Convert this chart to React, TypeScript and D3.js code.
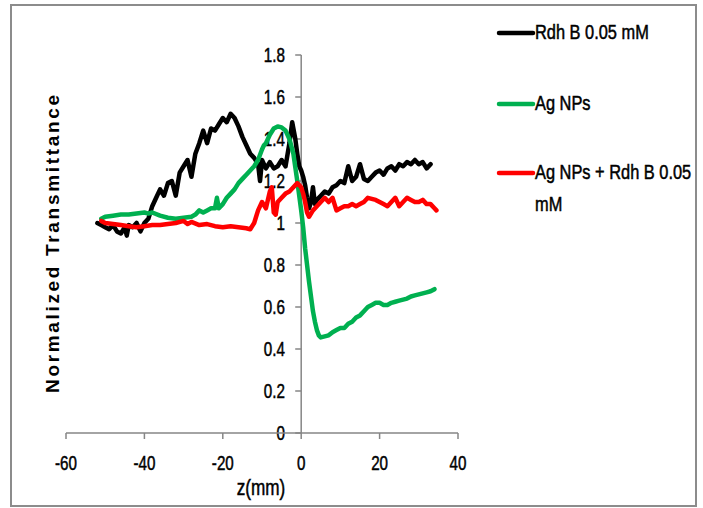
import React from "react";
import * as d3 from "d3";

const seriesNames = ["Rdh B 0.05 mM", "Ag NPs", "Ag NPs + Rdh B 0.05 mM"];
const seriesColors = ["#000000", "#00b050", "#ff0000"];

const rdhZ = [-52, -51, -50, -49, -48, -47, -46, -45, -44.5, -44, -43, -42, -41, -40, -39, -38, -37, -36, -35, -34, -33, -32, -31, -30, -29, -28, -27, -26, -25, -24, -23, -22, -21, -20, -19, -18, -17, -16, -15, -14, -13, -12, -11, -10.5, -10, -9, -8, -7, -6, -5, -4, -3, -2.3, -1.5, -1, -0.5, 0, 0.5, 1, 1.5, 2, 2.5, 3, 3.5, 4, 5, 6, 7, 8, 9, 10, 11, 12, 13, 14, 15, 16, 17, 18, 19, 20, 21, 22, 23, 24, 25, 26, 27, 28, 29, 30, 31, 32, 33];
const rdhT = [1.0, 0.99, 0.98, 0.97, 0.99, 0.96, 0.95, 0.98, 0.94, 0.99, 0.98, 1.0, 0.96, 1.0, 1.02, 1.08, 1.12, 1.16, 1.13, 1.19, 1.2, 1.13, 1.24, 1.27, 1.3, 1.22, 1.33, 1.38, 1.44, 1.38, 1.45, 1.44, 1.47, 1.5, 1.48, 1.52, 1.5, 1.46, 1.41, 1.37, 1.33, 1.31, 1.28, 1.2, 1.3, 1.26, 1.29, 1.26, 1.27, 1.3, 1.27, 1.38, 1.48, 1.4, 1.33, 1.27, 1.25, 1.22, 1.18, 1.12, 1.07, 1.1, 1.17, 1.09, 1.11, 1.13, 1.15, 1.14, 1.17, 1.18, 1.2, 1.19, 1.27, 1.2, 1.22, 1.28, 1.21, 1.2, 1.22, 1.24, 1.25, 1.23, 1.26, 1.27, 1.25, 1.28, 1.27, 1.29, 1.28, 1.3, 1.28, 1.29, 1.26, 1.28];

const agZ = [-51, -50, -48, -46, -44, -42, -40, -39, -38, -36, -34, -32, -30, -28, -27, -26, -25, -24, -23, -22, -21.5, -21, -20, -19, -18, -17, -16, -15, -14, -13, -12, -11, -10, -9.5, -9, -8, -7, -6, -5, -4, -3, -2, -1, 0, 0.5, 1, 1.5, 2, 2.5, 3, 3.5, 4, 4.5, 5, 6, 7, 8, 9, 10, 11, 12, 13, 14, 15, 16, 17, 18, 19, 20, 21, 22, 23, 24, 25, 26, 27, 28, 29, 30, 31, 32, 33, 34];
const agT = [1.02, 1.03, 1.035, 1.04, 1.04, 1.045, 1.05, 1.045, 1.05, 1.035, 1.025, 1.02, 1.025, 1.03, 1.04, 1.06, 1.05, 1.06, 1.07, 1.07, 1.12, 1.07, 1.09, 1.12, 1.14, 1.16, 1.19, 1.21, 1.23, 1.25, 1.27, 1.3, 1.35, 1.37, 1.38, 1.42, 1.45, 1.46, 1.455, 1.44, 1.4, 1.33, 1.2, 1.06, 0.98, 0.88, 0.8, 0.72, 0.65, 0.58, 0.53, 0.49, 0.465, 0.455, 0.46, 0.465, 0.48, 0.49, 0.5, 0.5, 0.52, 0.53, 0.55, 0.56, 0.58, 0.6, 0.61, 0.62, 0.62, 0.61, 0.61, 0.62, 0.625, 0.63, 0.635, 0.64, 0.65, 0.655, 0.66, 0.665, 0.67, 0.675, 0.685];

const mixZ = [-51, -50, -48, -46, -44, -42, -40, -38, -36, -34, -32, -30, -29, -28, -26, -24, -22, -20, -18, -16, -14, -13, -12, -11, -10, -9, -8, -7.5, -7, -6.5, -6, -5, -4, -3, -2, -1, 0, 0.5, 1, 1.5, 2, 3, 4, 5, 6, 7, 8, 9, 10, 11, 12, 13, 14, 15, 16, 17, 18, 19, 20, 21, 22, 23, 24, 25, 26, 27, 28, 29, 30, 31, 32, 33, 34, 34.5];
const mixT = [1.01, 1.0, 0.995, 0.99, 0.985, 0.98, 0.985, 0.99, 0.99, 0.995, 1.0, 1.01, 0.995, 1.005, 0.99, 0.995, 0.985, 0.98, 0.985, 0.98, 0.975, 0.97, 1.0, 1.06, 1.1, 1.07, 1.15, 1.17, 1.05, 1.04, 1.1, 1.12, 1.14, 1.15, 1.17, 1.19, 1.17, 1.14, 1.1, 1.05, 1.03, 1.06, 1.08, 1.1, 1.12, 1.1, 1.12, 1.06, 1.07, 1.08, 1.08, 1.09, 1.08, 1.09, 1.1, 1.12, 1.115, 1.11, 1.1, 1.09, 1.08, 1.1, 1.12, 1.08, 1.1, 1.12, 1.11, 1.1, 1.1, 1.11, 1.09, 1.09, 1.07, 1.06];

const xTicks = [-60, -40, -20, 0, 20, 40];
const yTicks = [0, 0.2, 0.4, 0.6, 0.8, 1, 1.2, 1.4, 1.6, 1.8];

const FONT = "'Liberation Sans', Arial, sans-serif";

function NText({
  x,
  y,
  anchor = "start",
  size = 20,
  sq = 0.76,
  children,
}: {
  x: number;
  y: number;
  anchor?: string;
  size?: number;
  sq?: number;
  children: React.ReactNode;
}) {
  return (
    <g transform={`translate(${x},${y}) scale(${sq},1)`}>
      <text
        x={0}
        y={0}
        textAnchor={anchor}
        fontFamily={FONT}
        fontSize={size}
        fill="#000"
        stroke="#000"
        strokeWidth={0.5}
      >
        {children}
      </text>
    </g>
  );
}

export default function App() {
  const x = d3.scaleLinear().domain([-60, 40]).range([66, 458]);
  const y = d3.scaleLinear().domain([0, 1.8]).range([433, 55]);
  const line = d3
    .line<[number, number]>()
    .x((d) => x(d[0]))
    .y((d) => y(d[1]));
  const series = [
    rdhZ.map((z, i) => [z, rdhT[i]] as [number, number]),
    agZ.map((z, i) => [z, agT[i]] as [number, number]),
    mixZ.map((z, i) => [z, mixT[i]] as [number, number]),
  ];
  const axisColor = "#868686";
  const x0 = x(0);
  const y0 = y(0);
  const legendY = [33, 104, 173];

  return (
    <svg
      width={703}
      height={508}
      style={{ position: "absolute", left: 0, top: 0, background: "#fff" }}
    >
      <rect x={0} y={0} width={703} height={508} fill="#fff" />
      <rect x={11} y={5} width={685} height={501} fill="none" stroke="#8c8c8c" strokeWidth={2} />

      {/* y axis */}
      <line x1={x0} x2={x0} y1={y(1.8)} y2={y0} stroke={axisColor} strokeWidth={1.5} />
      {yTicks.map((t) => (
        <g key={"y" + t}>
          <line x1={x0 - 6} x2={x0} y1={y(t)} y2={y(t)} stroke={axisColor} strokeWidth={1.5} />
          <NText x={285} y={y(t) + 7} anchor="end">
            {String(+t.toFixed(1))}
          </NText>
        </g>
      ))}

      {/* x axis */}
      <line x1={x(-60)} x2={x(40)} y1={y0} y2={y0} stroke={axisColor} strokeWidth={1.5} />
      {xTicks.map((t) => (
        <g key={"x" + t}>
          <line x1={x(t)} x2={x(t)} y1={y0} y2={y0 + 6} stroke={axisColor} strokeWidth={1.5} />
          <NText x={x(t)} y={470} anchor="middle">
            {String(t)}
          </NText>
        </g>
      ))}
      <NText x={261} y={495} anchor="middle" size={22} sq={0.78}>
        z(mm)
      </NText>
      <text
        transform={`translate(59,244) rotate(-90)`}
        textAnchor="middle"
        fontFamily="'Liberation Sans', Arial, sans-serif"
        fontWeight="bold"
        fontSize={19}
        textLength={298}
        lengthAdjust="spacing"
        fill="#000"
      >
        Normalized Transmittance
      </text>

      {/* series */}
      {series.map((s, i) => (
        <path
          key={"s" + i}
          d={line(s) || ""}
          fill="none"
          stroke={seriesColors[i]}
          strokeWidth={4.5}
          strokeLinejoin="round"
          strokeLinecap="round"
        />
      ))}

      {/* legend */}
      {seriesNames.map((name, i) => (
        <g key={"l" + i}>
          <line
            x1={499}
            x2={533}
            y1={legendY[i]}
            y2={legendY[i]}
            stroke={seriesColors[i]}
            strokeWidth={4.5}
            strokeLinecap="round"
          />
          {i < 2 ? (
            <NText x={535} y={legendY[i] + 6} sq={0.82}>
              {name}
            </NText>
          ) : (
            <g>
              <NText x={535} y={legendY[i] + 6} sq={0.82}>
                Ag NPs + Rdh B 0.05
              </NText>
              <NText x={535} y={legendY[i] + 38} sq={0.82}>
                mM
              </NText>
            </g>
          )}
        </g>
      ))}
    </svg>
  );
}
